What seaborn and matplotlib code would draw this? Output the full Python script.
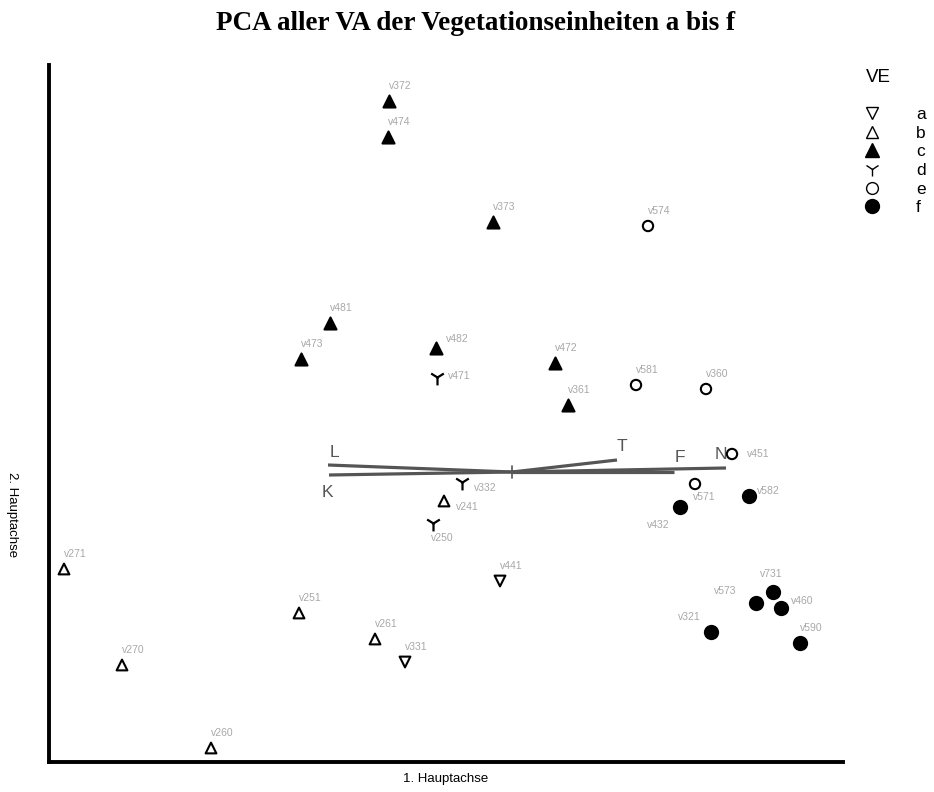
import numpy as np
import pandas as pd
import matplotlib
matplotlib.use("Agg")
import matplotlib.pyplot as plt
from matplotlib.lines import Line2D
import seaborn as sns

# releves (Vegetationsaufnahmen), their Vegetationseinheit and PCA scores
releve = ["v372", "v474", "v373", "v574", "v481", "v473", "v482", "v471",
          "v472", "v581", "v360", "v361", "v451", "v332", "v241", "v250",
          "v571", "v432", "v582", "v271", "v441", "v251", "v261", "v331",
          "v270", "v260", "v731", "v573", "v460", "v321", "v590"]
ve = ["c", "c", "c", "e", "c", "c", "c", "d",
      "c", "e", "e", "c", "e", "d", "b", "d",
      "e", "f", "f", "b", "a", "b", "b", "a",
      "b", "b", "f", "f", "f", "f", "f"]
pc1 = [-1.23, -1.24, -0.19, 1.36, -1.82, -2.11, -0.76, -0.75,
       0.43, 1.24, 1.94, 0.56, 2.20, -0.50, -0.68, -0.79,
       1.83, 1.68, 2.37, -4.48, -0.12, -2.13, -1.37, -1.07,
       -3.90, -3.01, 2.61, 2.44, 2.69, 1.99, 2.88]
pc2 = [3.71, 3.35, 2.50, 2.46, 1.49, 1.13, 1.24, 0.95,
       1.09, 0.87, 0.83, 0.67, 0.18, -0.10, -0.29, -0.51,
       -0.12, -0.35, -0.24, -0.97, -1.09, -1.41, -1.67, -1.90,
       -1.93, -2.76, -1.20, -1.31, -1.36, -1.60, -1.71]

# Zeigerwerte as biplot vectors
env_vars = ["L", "K", "T", "F", "N"]
env_pc1 = [-1.84, -1.83, 1.05, 1.62, 2.14]
env_pc2 = [0.07, -0.03, 0.12, 0.00, 0.04]

ve_order = ["a", "b", "c", "d", "e", "f"]

df = pd.DataFrame({"releve": releve, "VE": ve, "pc1": pc1, "pc2": pc2})

# marker, filled?, size
MARKERS = {
    "a": ("v", False, 60),
    "b": ("^", False, 60),
    "c": ("^", True, 75),
    "d": ("1", True, 130),
    "e": ("o", False, 55),
    "f": ("o", True, 90),
}
# legend marker sizes (points)
LEG_SIZES = {"a": 8.5, "b": 8.5, "c": 9.5, "d": 10.5, "e": 8.5, "f": 10}

# label offsets in pixels (default: just above the marker)
LABEL_OFFSETS = {
    "v482": (10, 9), "v471": (11, 1), "v332": (12, -6), "v241": (12, -6),
    "v250": (-2, -15), "v571": (-2, -13), "v432": (-33, -18), "v582": (8, 5),
    "v451": (15, 0), "v731": (-13, 18), "v573": (-42, 12), "v460": (10, 7),
    "v321": (-33, 15),
}
ENV_OFFSETS = {"L": (6, 13), "K": (-2, -17), "T": (5, 14), "F": (6, 15), "N": (-5, 14)}

sns.set_theme(style="white")
plt.rcParams["font.family"] = ["Liberation Sans", "DejaVu Sans"]
plt.rcParams["text.color"] = "black"

fig = plt.figure(figsize=(9.34, 7.92), dpi=100)
ax = fig.add_axes([49 / 934, 30 / 792, 794 / 934, 697 / 792])

# biplot vectors
line_col = "#555555"
for name, x, y in zip(env_vars, env_pc1, env_pc2):
    ax.plot([0, x], [0, y], color=line_col, lw=2.3, solid_capstyle="butt", zorder=1)
    dx, dy = ENV_OFFSETS[name]
    ax.annotate(name, (x, y), xytext=(dx, dy), textcoords="offset pixels",
                ha="center", va="center", fontsize=12.5, color=line_col)
ax.plot([0, 0], [-0.06, 0.06], color=line_col, lw=1.2, zorder=1)

for key in ve_order:
    sub = df[df["VE"] == key]
    marker, filled, size = MARKERS[key]
    if marker == "1":
        sns.scatterplot(data=sub, x="pc1", y="pc2", marker=marker, s=size,
                        color="black", linewidth=1.6, ax=ax, legend=False, zorder=3)
    else:
        sns.scatterplot(data=sub, x="pc1", y="pc2", marker=marker, s=size,
                        facecolor="black" if filled else "none", edgecolor="black",
                        linewidth=1.5, ax=ax, legend=False, zorder=3)

for name, x, y in zip(releve, pc1, pc2):
    dx, dy = LABEL_OFFSETS.get(name, (0, 15))
    ax.annotate(name, (x, y), xytext=(dx, dy), textcoords="offset pixels",
                ha="left", va="center", fontsize=7.5, color="#a8a8a8")

ax.set_xlim(-4.63, 3.31)
ax.set_ylim(-2.90, 4.07)
ax.set_xticks([])
ax.set_yticks([])
sns.despine(ax=ax)
for side in ["left", "bottom"]:
    ax.spines[side].set_linewidth(2.8)
    ax.spines[side].set_color("black")
ax.set_xlabel("1. Hauptachse", fontsize=9.5, color="black", labelpad=8)
ax.set_ylabel("")
fig.text(12 / 934, 1 - 515 / 792, "2. Hauptachse", rotation=270,
         ha="center", va="center", fontsize=9.5, color="black")

fig.text(476 / 934, 1 - 23 / 792, "PCA aller VA der Vegetationseinheiten a bis f",
         ha="center", va="center", fontsize=19.5, fontweight="bold", color="black",
         family=["Liberation Serif", "DejaVu Serif"])

# legend
fig.text(866 / 934, 1 - 77 / 792, "VE", ha="left", va="center", fontsize=13.5,
         color="black")
handles = []
for key in ve_order:
    marker, filled, size = MARKERS[key]
    handles.append(Line2D([], [], linestyle="none", marker=marker,
                          markersize=LEG_SIZES[key],
                          markerfacecolor="black" if filled else "none",
                          markeredgecolor="black", markeredgewidth=1.0,
                          color="black"))
fig.legend(handles, ve_order, loc="upper left",
           bbox_to_anchor=(862 / 934, 1 - 107 / 792), frameon=False,
           fontsize=12.5, handlelength=1.2, handletextpad=1.9, labelspacing=0.2,
           borderaxespad=0, borderpad=0)

fig.savefig("out.png", dpi=100)
